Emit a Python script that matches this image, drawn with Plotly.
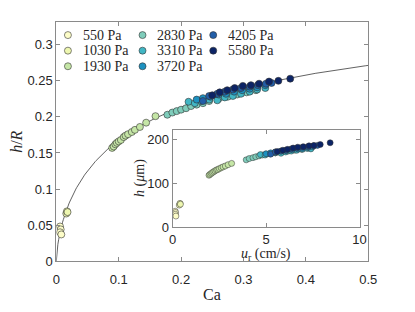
import numpy as np
import plotly.graph_objects as go

# ---------------- data ----------------
pressures = ["550 Pa", "1030 Pa", "1930 Pa", "2830 Pa", "3310 Pa", "3720 Pa", "4205 Pa", "5580 Pa"]
colors = ["#fdfdc8", "#eef7b0", "#c5e6a6", "#7fcdbb", "#41b6c4", "#1d91c0", "#225ea8", "#0c2466"]

ca_550 = [0.006, 0.007, 0.006, 0.008]
hr_550 = [0.048, 0.044, 0.040, 0.037]
ca_1030 = [0.016, 0.017, 0.018]
hr_1030 = [0.066, 0.069, 0.068]
ca_1930 = [0.0895, 0.092, 0.0947, 0.097, 0.100, 0.1035, 0.108, 0.111, 0.115, 0.121, 0.126, 0.134, 0.144, 0.159]
hr_1930 = [0.157, 0.159, 0.162, 0.164, 0.166, 0.168, 0.172, 0.174, 0.176, 0.179, 0.182, 0.186, 0.192, 0.201]
ca_2830 = [0.178, 0.186, 0.193, 0.200, 0.208, 0.216, 0.225, 0.235, 0.245, 0.260, 0.275, 0.290, 0.305, 0.320]
hr_2830 = [0.203, 0.206, 0.208, 0.210, 0.212, 0.215, 0.217, 0.219, 0.222, 0.225, 0.228, 0.231, 0.234, 0.237]
ca_3310 = [0.212, 0.222, 0.232, 0.245, 0.258, 0.270, 0.283, 0.296, 0.310, 0.322, 0.335]
hr_3310 = [0.221, 0.219, 0.222, 0.224, 0.223, 0.227, 0.229, 0.232, 0.235, 0.238, 0.240]
ca_3720 = [0.225, 0.235, 0.247, 0.260, 0.272, 0.285, 0.298, 0.310, 0.322, 0.335]
hr_3720 = [0.224, 0.226, 0.228, 0.231, 0.232, 0.235, 0.237, 0.239, 0.241, 0.244]
ca_4205 = [0.235, 0.245, 0.258, 0.270, 0.283, 0.296, 0.310, 0.323, 0.336, 0.345]
hr_4205 = [0.222, 0.229, 0.232, 0.235, 0.238, 0.240, 0.242, 0.244, 0.246, 0.247]
ca_5580 = [0.250, 0.262, 0.274, 0.286, 0.299, 0.312, 0.325, 0.341, 0.356, 0.375]
hr_5580 = [0.230, 0.234, 0.237, 0.240, 0.243, 0.244, 0.246, 0.249, 0.250, 0.253]

# inset: velocity (cm/s) and film thickness (um)
u_550 = [0.14, 0.16, 0.15, 0.18]
h_550 = [36, 33, 29, 25]
u_1030 = [0.36, 0.40, 0.42]
h_1030 = [50, 54, 52]
u_1930 = [1.95, 2.00, 2.07, 2.13, 2.20, 2.27, 2.35, 2.42, 2.50, 2.60, 2.70, 2.82, 2.97, 3.16]
h_1930 = [118, 120, 122, 124, 126, 128, 130, 131, 133, 135, 137, 139, 142, 145]
u_2830 = [3.94, 4.10, 4.30, 4.45, 4.62, 4.80, 5.00, 5.25, 5.50, 5.85, 6.20, 6.55, 6.90, 7.25]
h_2830 = [153, 156, 158, 160, 162, 164, 166, 167, 169, 171, 173, 175, 177, 180]
u_3310 = [4.70, 4.95, 5.20, 5.50, 5.80, 6.05, 6.35, 6.65, 6.95, 7.20, 7.40]
h_3310 = [165, 164, 167, 169, 168, 171, 173, 175, 177, 179, 178]
u_3720 = [5.00, 5.25, 5.50, 5.80, 6.10, 6.40, 6.70, 6.95, 7.25, 7.50]
h_3720 = [167, 169, 171, 173, 174, 176, 178, 179, 181, 183]
u_4205 = [5.25, 5.50, 5.80, 6.05, 6.35, 6.65, 6.95, 7.25, 7.55, 7.75]
h_4205 = [166, 171, 173, 175, 178, 180, 182, 183, 185, 186]
u_5580 = [5.60, 5.90, 6.15, 6.45, 6.70, 7.00, 7.30, 7.56, 7.90, 8.43]
h_5580 = [172, 175, 177, 180, 182, 183, 185, 186, 188, 192]

main_x = [ca_550, ca_1030, ca_1930, ca_2830, ca_3310, ca_3720, ca_4205, ca_5580]
main_y = [hr_550, hr_1030, hr_1930, hr_2830, hr_3310, hr_3720, hr_4205, hr_5580]
ins_x = [u_550, u_1030, u_1930, u_2830, u_3310, u_3720, u_4205, u_5580]
ins_y = [h_550, h_1030, h_1930, h_2830, h_3310, h_3720, h_4205, h_5580]

# Taylor / Aussillous-Quere law for the model curve
ca_line = np.linspace(0, 0.5, 400)
hr_line = 1.34 * ca_line ** (2 / 3) / (1 + 3.35 * ca_line ** (2 / 3))

# ---------------- figure ----------------
W, H = 415, 312
def px(x):
    return x / W
def py(y):
    return 1 - y / H

serif = "Liberation Serif, Times New Roman, serif"
sans = "Liberation Sans, Arial, sans-serif"
txt = "#262626"

fig = go.Figure()
fig.add_trace(go.Scatter(x=ca_line, y=hr_line, mode="lines",
                         line=dict(color="#3a3a3a", width=0.8),
                         showlegend=False, hoverinfo="skip"))

for i, name in enumerate(pressures):
    fig.add_trace(go.Scatter(x=main_x[i], y=main_y[i], mode="markers", name=name,
                             showlegend=False,
                             marker=dict(size=7, color=colors[i],
                                         line=dict(color="#333333", width=0.6))))
for i, name in enumerate(pressures):
    fig.add_trace(go.Scatter(x=ins_x[i], y=ins_y[i], mode="markers", name=name,
                             xaxis="x2", yaxis="y2", showlegend=False,
                             marker=dict(size=6, color=colors[i],
                                         line=dict(color="#333333", width=0.5))))

# manual legend (3 columns, column-major) on a pixel-space overlay axis
leg_col_x = [66, 143, 216]
leg_row_y = [36, 52, 68]
leg_text_dx = 13
for i, name in enumerate(pressures):
    c, r = divmod(i, 3)
    fig.add_trace(go.Scatter(x=[leg_col_x[c]], y=[leg_row_y[r]], mode="markers",
                             xaxis="x3", yaxis="y3", showlegend=False, hoverinfo="skip",
                             marker=dict(size=7, color=colors[i],
                                         line=dict(color="#333333", width=0.6))))
    fig.add_annotation(text=name, x=leg_col_x[c] + leg_text_dx, y=leg_row_y[r], xref="x3", yref="y3",
                       xanchor="left", yanchor="middle", showarrow=False,
                       font=dict(family=serif, size=14, color=txt))

axis_common = dict(showline=True, linecolor="#8a8a8a", linewidth=1, mirror="ticks",
                   ticks="inside", ticklen=4, tickcolor="#8a8a8a", showgrid=False,
                   zeroline=False, tickfont=dict(family=sans, size=13, color=txt))

fig.update_layout(
    width=W, height=H, margin=dict(l=0, r=0, t=0, b=0),
    paper_bgcolor="white", plot_bgcolor="rgba(0,0,0,0)", showlegend=False,
    xaxis=dict(domain=[px(54), px(376)], range=[0, 0.5], tickvals=[0, 0.1, 0.2, 0.3, 0.4, 0.5],
               ticktext=["0", "0.1", "0.2", "0.3", "0.4", "0.5"], ticklabelstandoff=6, **axis_common),
    yaxis=dict(domain=[py(268), py(23)], range=[0, 0.331],
               tickvals=[0, 0.05, 0.1, 0.15, 0.2, 0.25, 0.3],
               ticktext=["0", "0.05", "0.1", "0.15", "0.2", "0.25", "0.3"], **axis_common),
    xaxis2=dict(domain=[px(174), px(367)], range=[0, 10], tickvals=[0, 5, 10],
                anchor="y2", **axis_common),
    yaxis2=dict(domain=[py(233), py(133)], range=[0, 222], tickvals=[0, 100, 200],
                anchor="x2", **axis_common),
    xaxis3=dict(domain=[0, 1], range=[0, W], visible=False, anchor="y3", fixedrange=True),
    yaxis3=dict(domain=[0, 1], range=[H, 0], visible=False, anchor="x3", fixedrange=True),
)

fig.add_annotation(text="Ca", x=px(215), y=py(302), xref="paper", yref="paper",
                   xanchor="center", yanchor="middle",
                   showarrow=False, font=dict(family=serif, size=16, color=txt))
fig.add_annotation(text="<i>h</i>/<i>R</i>", x=px(13), y=py(146), xref="paper", yref="paper",
                   xanchor="center", yanchor="middle",
                   showarrow=False, textangle=-90, font=dict(family=serif, size=16, color=txt))
fig.add_annotation(text="<i>u</i><sub>r</sub> (cm/s)", x=px(270), y=py(261), xref="paper", yref="paper",
                   xanchor="center", yanchor="middle",
                   showarrow=False, font=dict(family=serif, size=14, color=txt))
fig.add_annotation(text="<i>h</i> (<i>μ</i>m)", x=px(141), y=py(183), xref="paper", yref="paper",
                   xanchor="center", yanchor="middle",
                   showarrow=False, textangle=-90, font=dict(family=serif, size=14, color=txt))

post = ("document.body.style.margin='0px';"
        "document.documentElement.style.overflow='hidden';")
fig.write_html("out.html", post_script=post, config={"displayModeBar": False})
